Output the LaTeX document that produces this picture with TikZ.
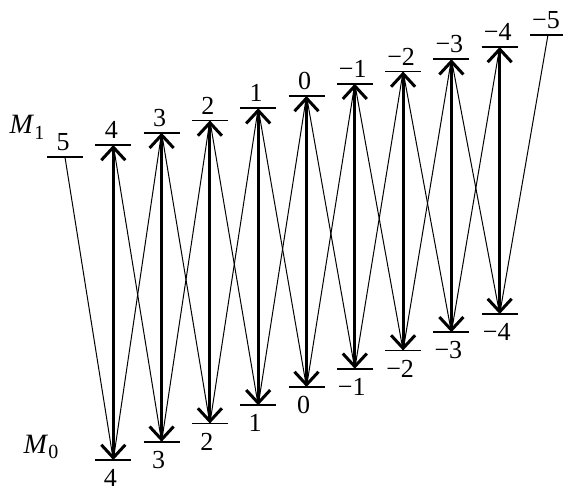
\documentclass[tikz,border=0pt]{standalone}
\usepackage{fontspec}
\setmainfont{Liberation Serif}
\usetikzlibrary{arrows.meta, calc}

\newcommand\lvtext[1]{\ifnum#1<0 −\number\numexpr-#1\relax\else#1\fi}
\newcommand\lvsub[1]{\raisebox{-0.45ex}{\fontsize{10}{11}\selectfont #1}}

\tikzset{
  level/.style={line width=0.9pt},
  piline/.style={line width=1.5pt, {Straight Barb[length=6.5pt,width=12pt]}-{Straight Barb[length=6.5pt,width=12pt]}},
  sigline/.style={line width=0.5pt},
  mlabel/.style={inner sep=0pt, font=\fontsize{13}{15}\selectfont},
  mname/.style={inner sep=0pt, font=\fontsize{14}{16}\selectfont},
}

\begin{document}
\begin{tikzpicture}[x=0.5pt, y=-0.5pt]
    \useasboundingbox (0,0) rectangle (563,491);

    % Upper levels M_1
    \foreach \m in {-5,...,5} {
        \coordinate (u\m) at ({306.5-48.3*\m}, {96+12.25*\m});
        \draw[level] (u\m) ++(-18,0) -- ++(36,0);
        \node[mlabel] (tu\m) at ($(u\m)+(-2,-15)$) {\lvtext{\m}};
    }

    % Lower levels M_0
    \foreach \m in {-4,...,4} {
        \coordinate (l\m) at ({306.5-48.3*\m}, {387+18.25*\m});
        \draw[level] (l\m) ++(-18,0) -- ++(36,0);
        \node[mlabel] (tl\m) at ($(l\m)+(-3,18)$) {\lvtext{\m}};
    }

    % Sigma transitions
    \foreach \m in {-4,...,4} {
        \pgfmathtruncatemacro\p{\m+1}
        \pgfmathtruncatemacro\q{\m-1}
        \draw[sigline] (u\p) -- (l\m);
        \draw[sigline] (u\q) -- (l\m);
    }

    % Pi transitions
    \foreach \m in {-4,...,4} {
        \draw[piline] (l\m) -- (u\m);
    }

    % Level names
    \node[mname] (mone) at (27,127) {\textit{M}\lvsub{1}};
    \node[mname] (mzero) at (41,447) {\textit{M}\lvsub{0}};
\end{tikzpicture}
\end{document}
